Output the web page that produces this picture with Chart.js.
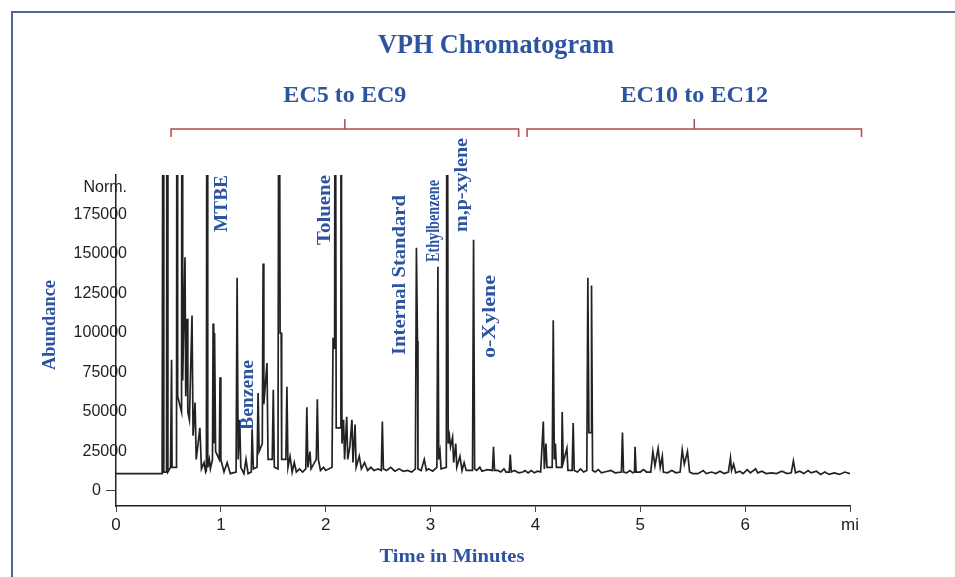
<!DOCTYPE html>
<html>
<head>
  <meta charset="UTF-8">
  <title>VPH Chromatogram</title>
  <script src="https://cdn.jsdelivr.net/npm/chart.js"></script>
  <style>
    body { margin: 0; background: #fff; }
    #wrap { position: absolute; left: 0; top: 0; width: 955px; height: 577px; }
    #frame { position: absolute; left: 11px; top: 11px; width: 944px; height: 566px;
             border-left: 2px solid #4a6796; border-top: 2px solid #4a6796; pointer-events: none; }
  </style>
</head>
<body>
  <div id="wrap"><canvas id="vph"></canvas></div>
  <div id="frame"></div>

  <script>
    // Retention time (min) and detector abundance, read point by point
    const retentionTime = [
      0, 0.44, 0.445, 0.45, 0.456, 0.482, 0.487, 0.495, 0.52, 0.53,
      0.535, 0.577, 0.582, 0.588, 0.625, 0.63, 0.636, 0.658, 0.665, 0.678,
      0.685, 0.70, 0.725, 0.735, 0.754, 0.765, 0.80, 0.815, 0.84, 0.855,
      0.862, 0.868, 0.875, 0.89, 0.90, 0.92, 0.926, 0.932, 0.94, 0.95,
      0.985, 0.992, 1.00, 1.03, 1.06, 1.09, 1.145, 1.155, 1.165, 1.18,
      1.19, 1.22, 1.24, 1.26, 1.29, 1.298, 1.31, 1.345, 1.355, 1.365,
      1.395, 1.403, 1.41, 1.44, 1.45, 1.49, 1.50, 1.51, 1.545, 1.555,
      1.565, 1.575, 1.58, 1.62, 1.63, 1.64, 1.66, 1.68, 1.70, 1.72,
      1.75, 1.78, 1.81, 1.82, 1.83, 1.85, 1.86, 1.91, 1.92, 1.93,
      1.95, 1.98, 2.00, 2.06, 2.07, 2.085, 2.09, 2.10, 2.14, 2.145,
      2.155, 2.17, 2.18, 2.20, 2.21, 2.23, 2.25, 2.26, 2.28, 2.29,
      2.32, 2.34, 2.37, 2.40, 2.43, 2.46, 2.50, 2.53, 2.54, 2.55,
      2.58, 2.62, 2.66, 2.70, 2.74, 2.78, 2.82, 2.855, 2.865, 2.875,
      2.88, 2.91, 2.94, 2.96, 2.98, 3.02, 3.06, 3.07, 3.078, 3.09,
      3.10, 3.15, 3.158, 3.168, 3.18, 3.19, 3.21, 3.22, 3.24, 3.25,
      3.28, 3.30, 3.32, 3.34, 3.40, 3.41, 3.42, 3.44, 3.47, 3.49,
      3.54, 3.59, 3.60, 3.61, 3.64, 3.67, 3.70, 3.72, 3.75, 3.76,
      3.77, 3.80, 3.84, 3.88, 3.90, 3.93, 3.96, 3.99, 4.02, 4.05,
      4.075, 4.085, 4.10, 4.11, 4.16, 4.17, 4.18, 4.19, 4.20, 4.25,
      4.255, 4.265, 4.30, 4.31, 4.35, 4.36, 4.37, 4.40, 4.43, 4.46,
      4.49, 4.50, 4.51, 4.53, 4.535, 4.545, 4.57, 4.60, 4.63, 4.66,
      4.72, 4.76, 4.82, 4.83, 4.84, 4.87, 4.90, 4.93, 4.945, 4.95,
      4.96, 5.00, 5.03, 5.06, 5.10, 5.12, 5.14, 5.17, 5.19, 5.21,
      5.22, 5.26, 5.30, 5.34, 5.38, 5.40, 5.42, 5.45, 5.47, 5.50,
      5.55, 5.60, 5.63, 5.68, 5.72, 5.76, 5.80, 5.84, 5.86, 5.87,
      5.89, 5.91, 5.95, 5.98, 6.02, 6.05, 6.10, 6.12, 6.16, 6.20,
      6.25, 6.30, 6.35, 6.40, 6.44, 6.46, 6.48, 6.52, 6.56, 6.60,
      6.63, 6.68, 6.72, 6.76, 6.80, 6.85, 6.90, 6.95, 7.00
    ];
    const abundance = [
      11000, 11000, 11000, 400000, 12000, 12000, 400000, 12000, 15000, 83000,
      15000, 15000, 400000, 60000, 50000, 400000, 70000, 148000, 60000, 109000,
      50000, 45000, 111000, 35000, 56000, 20000, 40000, 14000, 18000, 12000,
      13000, 400000, 15000, 20000, 14000, 20000, 106000, 30000, 100000, 25000,
      20000, 72000, 20000, 12000, 18000, 11000, 12000, 135000, 20000, 45000,
      15000, 11000, 20000, 11000, 12000, 39000, 14000, 15000, 62000, 25000,
      30000, 144000, 55000, 81000, 20000, 20000, 64000, 15000, 14000, 400000,
      100000, 100000, 20000, 20000, 66000, 15000, 22000, 12000, 18000, 12000,
      14000, 12000, 14000, 53000, 15000, 25000, 14000, 20000, 58000, 20000,
      13000, 15000, 13000, 15000, 97000, 90000, 400000, 40000, 40000, 400000,
      30000, 45000, 20000, 47000, 20000, 28000, 45000, 18000, 42000, 15000,
      22000, 14000, 18000, 13000, 15000, 13000, 14000, 13000, 44000, 14000,
      13000, 15000, 12500, 14000, 12500, 13000, 12000, 14000, 154000, 95000,
      14000, 13000, 20000, 13000, 14000, 12500, 15000, 142000, 20000, 25000,
      14000, 15000, 400000, 30000, 35000, 28000, 34000, 18000, 30000, 15000,
      22000, 13000, 18000, 13000, 13000, 159000, 14000, 13000, 15000, 12500,
      13500, 13000, 28000, 13000, 13000, 12000, 14000, 12000, 12000, 23000,
      12000, 13000, 11500, 12000, 13000, 11500, 13000, 11500, 12500, 12000,
      44000, 14000, 30000, 15000, 15000, 108000, 20000, 30000, 15000, 15000,
      50000, 18000, 27000, 13000, 13000, 43000, 13000, 12000, 14000, 12000,
      13000, 135000, 37000, 37000, 130000, 13000, 12000, 13500, 11500, 12000,
      13000, 11500, 12000, 37000, 12000, 11500, 13000, 11500, 12000, 28000,
      12000, 12000, 13500, 12000, 12000, 25000, 16000, 27000, 15000, 22000,
      12000, 11500, 13000, 11500, 12000, 26000, 17000, 25000, 12000, 11000,
      11000, 13000, 11000, 12000, 11000, 12500, 11000, 12000, 21000, 13000,
      17000, 11500, 12500, 11000, 13500, 11500, 14000, 11500, 12500, 11000,
      11500, 11000, 12500, 11000, 11500, 19000, 11500, 12500, 11000, 13000,
      11500, 12500, 10500, 12000, 10500, 11500, 10500, 12000, 11000
    ];

    // Axis ticks
    const xTicks = [0, 1, 2, 3, 4, 5, 6, 7];
    const xTickLabels = ['0', '1', '2', '3', '4', '5', '6', 'mi'];
    const yTicks = [0, 25000, 50000, 75000, 100000, 125000, 150000, 175000, 192000];
    const yTickLabels = ['0', '25000', '50000', '75000', '100000', '125000', '150000', '175000', 'Norm.'];

    // Carbon-range brackets (minutes)
    const rangeLabels = ['EC5 to EC9', 'EC10 to EC12'];
    const rangeStart = [0.525, 3.92];
    const rangeEnd = [3.84, 7.11];

    // Compound names with the retention time they sit beside
    const compoundNames = ['MTBE', 'Benzene', 'Toluene', 'Internal Standard', 'Ethylbenzene', 'm,p-xylene', 'o-Xylene'];
    const compoundTimes = [1.01, 1.26, 2.0, 2.71, 3.04, 3.30, 3.57];
    // label extent in pixels (top, bottom) for each rotated name
    const compoundSpan = [[175, 232], [360, 430], [175, 245], [195, 355], [180, 262], [138, 232], [275, 358]];

    const BLUE = '#2d54a0';
    const SERIF = '"Liberation Serif", "DejaVu Serif", serif';
    const SANS = '"Liberation Sans Narrow", "Liberation Sans", Arial, sans-serif';

    // draw bold serif text stretched/squeezed to a given length, optionally reading upward
    function fitText(ctx, text, cx, cy, len, size, color, upright) {
      ctx.save();
      ctx.font = 'bold ' + size + 'px ' + SERIF;
      ctx.fillStyle = color;
      ctx.textAlign = 'center';
      ctx.textBaseline = 'middle';
      const w = ctx.measureText(text).width;
      ctx.translate(cx, cy);
      if (!upright) ctx.rotate(-Math.PI / 2);
      ctx.scale(len / w, 1);
      ctx.fillText(text, 0, 0);
      ctx.restore();
    }

    const decorations = {
      id: 'decorations',
      afterDraw(chart) {
        const ctx = chart.ctx;
        const xs = chart.scales.x;
        const ys = chart.scales.y;

        fitText(ctx, 'VPH Chromatogram', 496, 46, 236, 27, BLUE, true);

        // brackets over the two carbon ranges
        ctx.save();
        ctx.strokeStyle = '#b04a4a';
        ctx.lineWidth = 1.5;
        rangeLabels.forEach((lab, i) => {
          const x0 = xs.getPixelForValue(rangeStart[i]);
          const x1 = xs.getPixelForValue(rangeEnd[i]);
          const xm = (x0 + x1) / 2;
          ctx.beginPath();
          ctx.moveTo(x0, 137); ctx.lineTo(x0, 129); ctx.lineTo(x1, 129); ctx.lineTo(x1, 137);
          ctx.moveTo(xm, 129); ctx.lineTo(xm, 119);
          ctx.stroke();
          fitText(ctx, lab, xm, 96, lab.length * 12.3, 23, BLUE, true);
        });
        ctx.restore();

        compoundNames.forEach((name, i) => {
          const x = xs.getPixelForValue(compoundTimes[i]);
          const [top, bottom] = compoundSpan[i];
          fitText(ctx, name, x, (top + bottom) / 2, bottom - top, 18, BLUE, false);
        });

        fitText(ctx, 'Abundance', 50, 325, 90, 18, BLUE, false);
        fitText(ctx, 'Time in Minutes', 452, 557, 145, 19, BLUE, true);

        // y tick labels sit across the axis line; the zero label sits left of its tick
        ctx.save();
        ctx.font = '16px ' + '"Liberation Sans", Arial, sans-serif';
        ctx.fillStyle = '#222';
        ctx.textAlign = 'right';
        ctx.textBaseline = 'middle';
        yTicks.forEach((v, i) => {
          const right = yTickLabels[i] === '0' ? 101 : 127;
          ctx.fillText(yTickLabels[i], right, ys.getPixelForValue(v));
        });
        ctx.restore();
      }
    };

    new Chart(document.getElementById('vph'), {
      type: 'line',
      data: {
        datasets: [{
          data: retentionTime.map((t, i) => ({ x: t, y: abundance[i] })),
          borderColor: '#222',
          borderWidth: 1.7,
          pointRadius: 0,
          tension: 0,
          fill: false
        }]
      },
      options: {
        animation: false,
        responsive: true,
        maintainAspectRatio: false,
        layout: { padding: { top: 175, right: 105, left: 0, bottom: 0 } },
        plugins: { legend: { display: false }, tooltip: { enabled: false } },
        scales: {
          x: {
            type: 'linear',
            min: 0, max: 7,
            afterBuildTicks: s => { s.ticks = xTicks.map(v => ({ value: v })); },
            afterFit: s => { s.height = 71; },
            ticks: {
              color: '#222',
              font: { family: SANS, size: 17 },
              padding: 3,
              maxRotation: 0,
              callback: (v, i) => xTickLabels[i]
            },
            grid: { drawOnChartArea: false, drawTicks: true, tickLength: 6, color: '#444' },
            border: { color: '#222', width: 1.5 }
          },
          y: {
            min: -9500, max: 200000,
            afterBuildTicks: s => { s.ticks = yTicks.map(v => ({ value: v })); },
            afterFit: s => { s.width = 116; },
            ticks: { display: false },
            grid: {
              drawOnChartArea: false, drawTicks: true, tickLength: 10,
              color: c => (c.tick && c.tick.value === 0 ? '#444' : 'rgba(0,0,0,0)')
            },
            border: { color: '#222', width: 1.5 }
          }
        }
      },
      plugins: [decorations]
    });
  </script>
</body>
</html>
